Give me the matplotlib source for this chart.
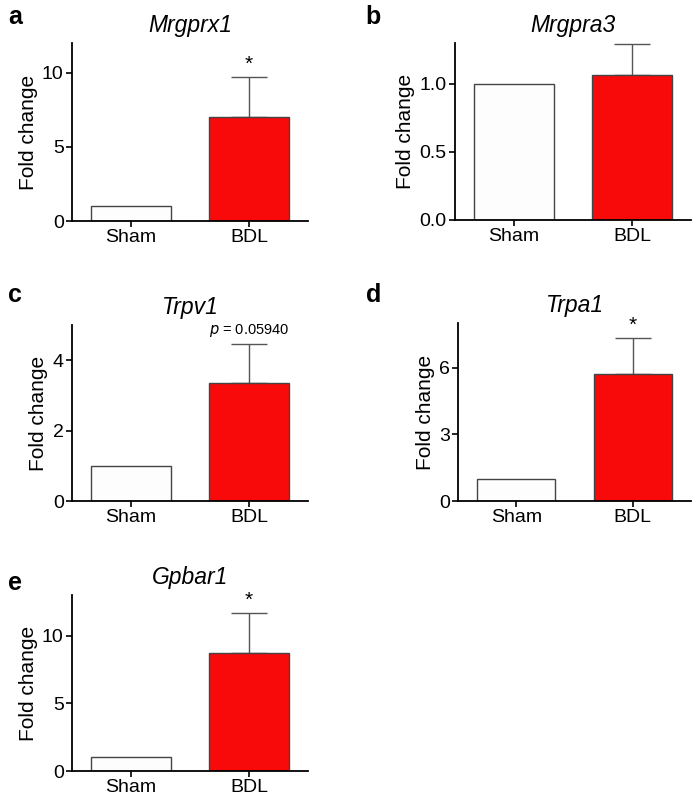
import matplotlib
matplotlib.use("Agg")
import matplotlib.pyplot as plt

plt.rcParams['font.family'] = ['Liberation Sans', 'DejaVu Sans']

groups = ["Sham", "BDL"]
genes = ["Mrgprx1", "Mrgpra3", "Trpv1", "Trpa1", "Gpbar1"]
letters = ["a", "b", "c", "d", "e"]
sham_vals = [1.0, 1.0, 1.0, 1.0, 1.0]
bdl_vals = [7.0, 1.066, 3.36, 5.7, 8.68]
bdl_err = [2.7, 0.23, 1.1, 1.62, 2.96]
annotations = ["*", "", "p=0.05940", "*", "*"]
ylims = [12, 1.3, 5, 8, 13]
yticks = [[0, 5, 10], [0.0, 0.5, 1.0], [0, 2, 4], [0, 3, 6], [0, 5, 10]]
ytick_labels = [["0", "5", "10"], ["0.0", "0.5", "1.0"], ["0", "2", "4"],
                ["0", "3", "6"], ["0", "5", "10"]]

W, H = 696, 796
fig = plt.figure(figsize=(W / 100, H / 100), dpi=100)

# axes boxes in pixels: left, top, right, bottom
boxes = [(72, 43, 308, 221), (455, 43, 691, 220), (72, 325, 308, 501),
         (458, 323, 691, 501), (72, 595, 308, 771)]
letter_pos = [(8, 17), (365, 17), (8, 295), (366, 295), (8, 583)]

for i in range(5):
    l, t, r, b = boxes[i]
    ax = fig.add_axes([l / W, 1 - b / H, (r - l) / W, (b - t) / H])
    x = [0, 1]
    ax.bar(x, [sham_vals[i], bdl_vals[i]], width=0.67,
           color=["#fdfdfd", "#f80a0a"], edgecolor="#444444", linewidth=1.0, zorder=2)
    ax.errorbar([1], [bdl_vals[i]], yerr=[[0], [bdl_err[i]]], fmt="none",
                ecolor="#555555", elinewidth=1.0, capsize=13, capthick=1.0, zorder=1)
    ax.set_xlim(-0.5, 1.5)
    ax.set_ylim(0, ylims[i])
    ax.set_xticks(x)
    ax.set_xticklabels(groups, fontsize=14)
    ax.set_yticks(yticks[i])
    ax.set_yticklabels(ytick_labels[i], fontsize=14)
    ax.set_ylabel("Fold change", fontsize=15, labelpad=3)
    ax.spines['top'].set_visible(False)
    ax.spines['right'].set_visible(False)
    ax.spines['left'].set_linewidth(1.3)
    ax.spines['bottom'].set_linewidth(1.3)
    ax.tick_params(direction='out', length=4, width=1.2, pad=2)
    ax.set_title(genes[i], fontsize=16.5, style='italic', pad=8)
    top = bdl_vals[i] + bdl_err[i]
    ann = annotations[i]
    if ann == "*":
        ax.text(1, top + ylims[i] * 0.02, "*", ha='center', va='bottom', fontsize=15)
    elif ann:
        ax.text(1, top + ylims[i] * 0.03, "$p$ = 0.05940", ha='center', va='bottom',
                fontsize=10.5)
    lx, ly = letter_pos[i]
    fig.text(lx / W, 1 - ly / H, letters[i], fontsize=18, fontweight='bold',
             ha='left', va='center')

fig.savefig("out.png", dpi=100)
